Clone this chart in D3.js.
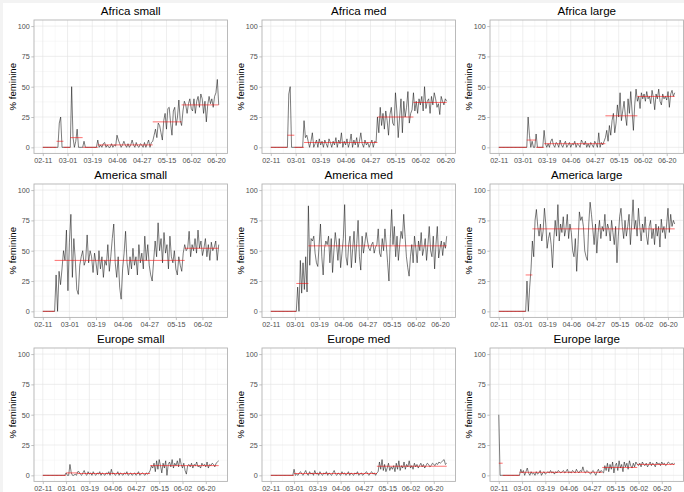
<!DOCTYPE html>
<html>
<head>
<meta charset="utf-8">
<script src="https://cdn.jsdelivr.net/npm/d3@7"></script>
<style>
  body { margin: 0; background: #f3f3f3; }
  svg { display: block; font-family: "Liberation Sans", Arial, sans-serif; }
</style>
</head>
<body>
<svg id="chart" width="684" height="492"></svg>
<script>
// tick labels, one every 18 days
const tickLabels = ['02-11', '03-01', '03-19', '04-06', '04-27', '05-15', '06-02', '06-20'];
const yTicks = [0, 25, 50, 75, 100];

// daily % feminine per panel
const africaSmall = [0,0,0,0,0,0,0,0,0,0,0,0, 20,25,0,0,0,0,0,0,0, 50,8,0,5,15,0,0,0,0,5,0, 0,0,0,0,0,0,0,0,
  6,0,2,0,3,4,0,2,0,0, 3,0,2,1,10,6,3,0,2,5, 2,0,3,0,2,6,2,0,4,1, 0,3,2,0,4,0,3,6,0,4,
  5,10,15,8,20,18,12,6,22,28, 15,32,33,20,10,30,33,18,25,39, 22,18,30,38,35,28,36,40,32,30,
  40,28,38,42,33,44,40,28,38,21, 35,42,36,40,33,42,45,56,35];
const africaMed = [0,0,0,0,0,0,0,0,0,0,0,0, 0,44,50,0,0,0,0,0,0,0,0,0,
  22,8,10,5,0,5,12,0,3,6,0,7,2,5,0,6,3,0,7,4, 0,5,2,8,0,6,3,12,0,5, 2,7,0,4,11,0,6,2,8,0, 5,12,3,0,6,2,4,0,3,6, 0,5,4,
  25,12,33,18,28,15,30,22,10,27,33,20,18,45,30,8,25,40,12,38,25,33,46,20,28,31,
  45,30,38,28,40,35,42,30,50,32,38,40,28,42,35,45,40,33,36,27,42,38,35,40,38];
const africaLarge = [0,0,0,0,0,0,0,0,0,0,0,0,0,0,0,0,0,0,0,0,0,0,
  25,10,0,5,0,0,11,0,0,0,0,0,14,3,0,
  3,0,5,7,2,0,4,3,0,6,2,0,3,5,0,2,4,0,3,2, 5,0,3,2,0,6,4,2,5,0, 3,0,4,2,0,5,3,0,12,0, 4,2,5,
  8,14,5,18,10,22,28,12,20,35,25,45,22,30,38,26,18,40,28,46,30,14,35,48,38,
  42,32,45,40,44,38,46,40,42,36,47,41,31,44,40,48,38,35,44,40,42,39,46,33,44,47,42,45];
const americaSmall = [0,0,0,0,0,0,0,0,0,
  30,0,33,22,35,50,42,67,17,57,80,28,60,42,18,14,38,
  45,50,38,42,63,40,50,45,32,48, 40,30,50,35,45,28,42,38,55,33, 45,60,72,40,28,45,20,10,35,48,
  66,40,30,45,35,52,38,45,30,55, 40,48,35,62,42,55,38,30,25,42, 58,45,73,50,60,40,65,48,55,35,
  62,45,40,50,35,30,45,38,33,48,
  55,50,52,66,45,55,50,60,48,67,52,58,46,52,60,45,55,42,57,50,53,58,42,55];
const americaMed = [0,0,0,0,0,0,0,0,0,0,0,0,0,0,0,0,0,0,0,0,
  20,0,42,15,40,18,45,16,87,
  38,60,58,62,48,40,37,55,72,45, 30,52,58,55,62,40,60,32,50,65, 55,42,60,36,48,60,88,45,38,55,
  62,36,52,66,40,56,75,45,34,62, 48,56,65,58,52,50,55,57,48,53, 55,68,48,45,60,50,68,55,40,25,
  60,84,55,70,45,62,42,55,66,60, 80,62,45,36,29,45,55,40,62,52, 40,58,50,65,46,52,60,42,55,70,
  50,45,62,35,55,70,44,52,58,46, 57,52,62];
const americaLarge = [0,0,0,0,0,0,0,0,0,0,0,0,0,0,0,0,0,0,0,0,0,
  25,0,20,35,58,45,75,84,
  70,62,72,58,66,85,72,52,60,65, 55,36,60,75,62,88,58,72,65,78, 62,68,80,60,72,65,50,45,60,33,
  55,82,75,78,70,50,45,42,72,90, 80,68,55,72,48,65,75,60,70,66, 80,62,72,68,58,75,65,55,70,40,
  62,78,85,70,60,75,62,70,80,55, 72,92,68,75,62,85,70,58,72,65, 78,62,55,70,75,60,68,55,72,62,
  70,53,76,65,70,60,72,85,65,80, 70,75,72];
const europeSmall = [0,0,0,0,0,0,0,0,0,0,0,0,0,0,0,0,0,0,
  2,0,0,9,2,0,0,1,0,3,
  3,1,0,2,4,1,0,3,1,2, 0,3,1,0,2,1,3,0,2,1, 0,2,1,3,0,5,1,2,0,1, 3,0,2,1,0,2,1,3,0,1, 2,0,1,2,0,1,3,0,1,2, 1,0,2,1,2,
  4,8,6,10,3,12,5,13,8,2, 10,6,12,0,9,11,7,13,6,10, 8,12,7,14,9,6,10,4,1,8, 9,7,10,6,9,8,11,7,8,6,
  10,8,9,7,11,6,9,8,10,9, 7,10,11,12];
const europeMed = [0,0,0,0,0,0,0,0,0,0,0,0,0,0,0,0,0,0,
  5,0,1,0,2,3,1,0,2,4, 1,0,3,1,2,0,4,1,2,0, 3,1,0,2,1,3,0,2,1,0, 2,4,1,0,2,1,0,3,1,2, 0,1,3,0,2,1,0,2,1,3, 0,1,2,0,1,2,3,1,0,2, 3,1,2,0,2,
  3,11,5,13,4,9,3,6,10,4, 7,5,8,3,10,5,12,4,8,6, 11,5,9,7,12,6,8,5,10,7, 9,6,8,10,7,9,6,8,10,9,
  7,8,10,9,8,10,9,11,10,11, 12,13,9,10];
const europeLarge = [50, 0,0,0,0,0,0,0,0,0,0,0,0,0,0,0,0,
  5,2,4,0,3,6,2,0,3,1, 2,0,3,1,2,4,0,2,3,1, 2,3,2,4,2,3,1,3,2,4, 3,2,3,4,2,3,5,2,3,2, 4,3,2,5,3,2,4,3,7,3, 2,4,3,2,1,3,4,2,0,3, 5,2,4,3,
  2,8,4,10,3,9,5,11,2,8, 10,4,12,6,9,3,11,7,10,5, 12,8,6,10,7,11,9,
  8,10,7,11,9,8,10,7,9,11, 8,10,9,7,11,9,10,8,11,9, 10,8,9,11,10,9,10,9,10];

// period means: [from day, to day, value]
const africaSmallMeans = [[0,10,0],[10,15,5],[15,20,0],[20,29,8],[29,40,0],[40,80,2],[80,101,21],[101,128,35]];
const africaMedMeans = [[0,12,0],[12,17,10],[17,24,0],[24,77,4],[77,103,25],[103,127,37]];
const africaLargeMeans = [[0,21,0],[21,28,6],[28,34,0],[34,80,3],[80,104,26],[104,132,42]];
const americaSmallMeans = [[0,8,0],[8,96,42],[96,119,52]];
const americaMedMeans = [[0,19,0],[19,28,23],[28,131,54]];
const americaLargeMeans = [[0,20,0],[20,25,30],[25,131,68]];
const europeSmallMeans = [[0,18,0],[18,27,2],[27,83,1.5],[83,136,8]];
const europeMedMeans = [[0,18,0],[18,82,1.5],[82,136,7.5]];
const europeLargeMeans = [[0,3,10],[3,16,0],[16,80,2.5],[80,107,6.5],[107,136,9]];

const titles = ['Africa small', 'Africa med', 'Africa large',
                'America small', 'America med', 'America large',
                'Europe small', 'Europe med', 'Europe large'];
const seriesList = [africaSmall, africaMed, africaLarge, americaSmall, americaMed, americaLarge, europeSmall, europeMed, europeLarge];
const meansList = [africaSmallMeans, africaMedMeans, africaLargeMeans, americaSmallMeans, americaMedMeans, americaLargeMeans, europeSmallMeans, europeMedMeans, europeLargeMeans];

const cellW = 228, cellH = 164;
const svg = d3.select('#chart');
svg.append('rect').attr('x', 3).attr('y', 3).attr('width', 681).attr('height', 489).attr('fill', '#fff');

titles.forEach((title, i) => {
  const col = i % 3, row = Math.floor(i / 3);
  const g = svg.append('g').attr('transform', `translate(${col * cellW},${row * cellH})`);
  const values = seriesList[i];
  const n = values.length - 1;
  const left = 34, right = 227.5, top = 20, bottom = 153.4;

  const x = d3.scaleLinear().domain([-0.05 * n, 1.05 * n]).range([left, right]);
  const y = d3.scaleLinear().domain([-5, 105]).range([bottom, top]);

  const majors = tickLabels.map((d, k) => k * 18).filter(v => v <= n);
  const minorsX = majors.map(v => v + 9).filter(v => v < x.domain()[1]);
  const minorsY = [12.5, 37.5, 62.5, 87.5];

  // grid
  g.selectAll('.gxm').data(minorsX).join('line')
    .attr('x1', d => x(d)).attr('x2', d => x(d)).attr('y1', top).attr('y2', bottom)
    .attr('stroke', '#f0f0f0').attr('stroke-width', 0.5);
  g.selectAll('.gym').data(minorsY).join('line')
    .attr('x1', left).attr('x2', right).attr('y1', d => y(d)).attr('y2', d => y(d))
    .attr('stroke', '#f0f0f0').attr('stroke-width', 0.5);
  g.selectAll('.gx').data(majors).join('line')
    .attr('x1', d => x(d)).attr('x2', d => x(d)).attr('y1', top).attr('y2', bottom)
    .attr('stroke', '#e2e2e2').attr('stroke-width', 0.6);
  g.selectAll('.gy').data(yTicks).join('line')
    .attr('x1', left).attr('x2', right).attr('y1', d => y(d)).attr('y2', d => y(d))
    .attr('stroke', '#e2e2e2').attr('stroke-width', 0.6);

  // daily line
  const line = d3.line().x((d, k) => x(k)).y(d => y(d));
  g.append('path').datum(values).attr('d', line)
    .attr('fill', 'none').attr('stroke', '#111').attr('stroke-width', 0.55);

  // period means
  g.selectAll('.mean').data(meansList[i]).join('line')
    .attr('x1', d => x(d[0])).attr('x2', d => x(d[1]))
    .attr('y1', d => y(d[2])).attr('y2', d => y(d[2]))
    .attr('stroke', '#ff0000').attr('stroke-opacity', 0.7).attr('stroke-width', 0.8);

  // border
  g.append('rect').attr('x', left).attr('y', top).attr('width', right - left).attr('height', bottom - top)
    .attr('fill', 'none').attr('stroke', '#b3b3b3').attr('stroke-width', 0.9);

  // axes
  const yAxis = d3.axisLeft(y).tickValues(yTicks).tickSize(2.7).tickPadding(1.5);
  const ya = g.append('g').attr('transform', `translate(${left},0)`).call(yAxis);
  const xAxis = d3.axisBottom(x).tickValues(majors).tickFormat((d, k) => tickLabels[k]).tickSize(2.7).tickPadding(1.5);
  const xa = g.append('g').attr('transform', `translate(0,${bottom})`).call(xAxis);
  [ya, xa].forEach(a => {
    a.select('.domain').remove();
    a.selectAll('line').attr('stroke', '#b3b3b3').attr('stroke-width', 0.8);
    a.selectAll('text').attr('fill', '#4d4d4d').style('font-size', '7.2px')
      .style('font-family', '"Liberation Sans", Arial, sans-serif');
  });

  g.append('text').attr('transform', `translate(13,${(top + bottom) / 2}) rotate(-90)`)
    .attr('text-anchor', 'middle').attr('dy', '0.35em')
    .style('font-size', '9.6px').attr('fill', '#000').text('% feminine');

  g.append('text').attr('x', (left + right) / 2).attr('y', 15.3)
    .attr('text-anchor', 'middle').style('font-size', '11.6px').attr('fill', '#000').text(title);
});
</script>
</body>
</html>
